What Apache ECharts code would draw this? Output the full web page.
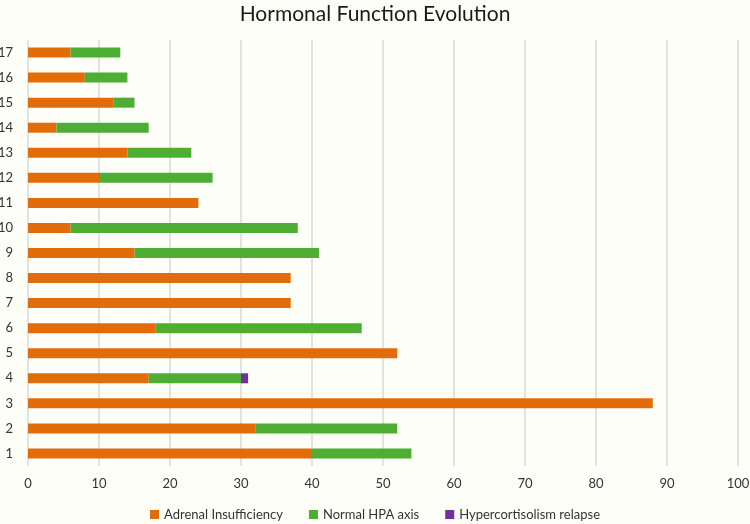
<!DOCTYPE html>
<html>
<head>
<meta charset="utf-8">
<script src="https://cdn.jsdelivr.net/npm/echarts@6/dist/echarts.min.js"></script>
<style>
  html, body { margin: 0; padding: 0; background: #fefef9; }
  #chart { width: 750px; height: 524px; }
</style>
</head>
<body>
<div id="chart"></div>
<script>
const categories = ["1", "2", "3", "4", "5", "6", "7", "8", "9", "10", "11", "12", "13", "14", "15", "16", "17"];
const adrenal = [40, 32, 88, 17, 52, 18, 37, 37, 15, 6, 24, 10, 14, 4, 12, 8, 6];
const normalHpa = [14, 20, 0, 13, 0, 29, 0, 0, 26, 32, 0, 16, 9, 13, 3, 6, 7];
const relapse = [0, 0, 0, 1, 0, 0, 0, 0, 0, 0, 0, 0, 0, 0, 0, 0, 0];

const chart = echarts.init(document.getElementById("chart"));
const font = "Lato, 'Open Sans', sans-serif";

const bar = (name, data, color) => ({
  name: name,
  type: "bar",
  stack: "total",
  data: data,
  barWidth: 10,
  itemStyle: { color: color },
});

chart.setOption({
  backgroundColor: "#fefef9",
  animation: false,
  title: {
    text: "Hormonal Function Evolution",
    left: "center",
    top: -1,
    textStyle: { fontFamily: font, fontSize: 21, fontWeight: "normal", color: "#1a1a1a" },
  },
  legend: {
    bottom: -2,
    itemWidth: 9,
    itemHeight: 9,
    itemGap: 26,
    icon: "rect",
    textStyle: { fontFamily: font, fontSize: 13, color: "#333" },
  },
  grid: { left: 28, right: 12, top: 40, bottom: 58, containLabel: false, outerBoundsMode: "none" },
  xAxis: {
    type: "value",
    min: 0,
    max: 100,
    interval: 10,
    axisLine: { show: false },
    axisTick: { show: false },
    axisLabel: { fontFamily: font, fontSize: 13, color: "#333", margin: 11 },
    splitLine: { lineStyle: { color: "#e2e2de", width: 2 } },
  },
  yAxis: {
    type: "category",
    data: categories,
    axisLine: { show: false },
    axisTick: { show: false },
    axisLabel: { fontFamily: font, fontSize: 13, color: "#333", margin: 15 },
  },
  series: [
    bar("Adrenal Insufficiency", adrenal, "#e36c0a"),
    bar("Normal HPA axis", normalHpa, "#4eae34"),
    bar("Hypercortisolism relapse", relapse, "#7030a0"),
  ],
});
</script>
</body>
</html>
